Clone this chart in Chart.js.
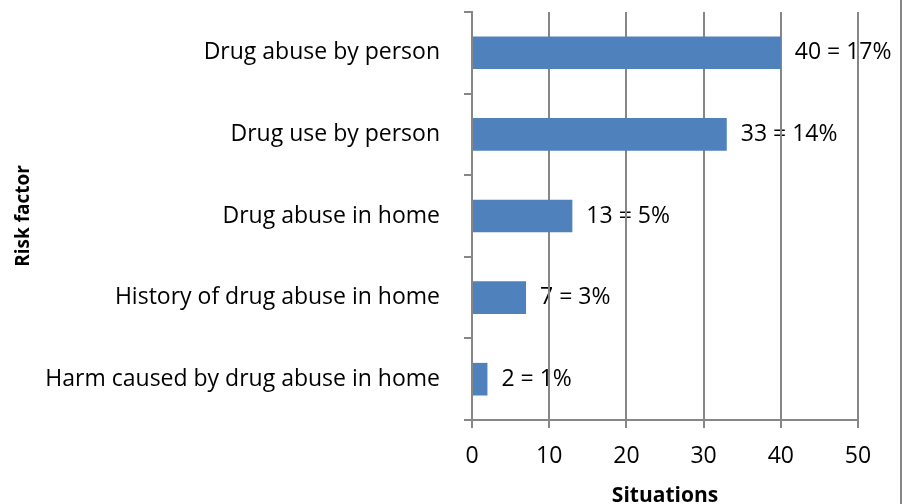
<!DOCTYPE html>
<html><head><meta charset="utf-8">
<script src="https://cdn.jsdelivr.net/npm/chart.js@4"></script>
<style>
html,body{margin:0;padding:0;background:#fff;}
#wrap{position:relative;width:900px;height:504px;border-right:2px solid #868686;}
</style></head>
<body>
<div id="wrap"><canvas id="c" width="900" height="504"></canvas></div>
<script>
const categories = ['Drug abuse by person','Drug use by person','Drug abuse in home','History of drug abuse in home','Harm caused by drug abuse in home'];
const situations = [40, 33, 13, 7, 2];
const percents = ['17%','14%','5%','3%','1%'];
const xTicks = [0, 10, 20, 30, 40, 50];

const FONT = '"Open Sans", "Liberation Sans", Arial, sans-serif';
const FSIZE = 23;
const GRID = '#868686';

const labelPlugin = {
  id: 'valueLabels',
  beforeDraw(chart) {
    const ctx = chart.ctx;
    const meta = chart.getDatasetMeta(0);
    ctx.save();
    ctx.font = FSIZE + 'px ' + FONT;
    ctx.fillStyle = '#000';
    ctx.textAlign = 'left';
    ctx.textBaseline = 'middle';
    meta.data.forEach((bar, i) => {
      ctx.fillText(situations[i] + ' = ' + percents[i], bar.x + 14, bar.y);
    });
    ctx.restore();
  }
};

new Chart(document.getElementById('c'), {
  type: 'bar',
  data: {
    labels: categories,
    datasets: [{
      data: situations,
      backgroundColor: '#4F81BD',
      categoryPercentage: 1,
      barPercentage: 0.4
    }]
  },
  plugins: [labelPlugin],
  options: {
    indexAxis: 'y',
    responsive: false,
    animation: false,
    layout: { padding: { top: 12, right: 42, left: 0, bottom: 0 } },
    plugins: { legend: { display: false }, tooltip: { enabled: false } },
    scales: {
      x: {
        min: 0, max: 50,
        afterBuildTicks(scale) { scale.ticks = xTicks.map(v => ({ value: v })); },
        afterFit(scale) { scale.height = 84; scale.paddingLeft = 0; scale.paddingRight = 0; },
        grid: { color: GRID, lineWidth: 2, tickLength: 8, drawTicks: true },
        border: { color: GRID, width: 2 },
        ticks: { color: '#000', font: { size: FSIZE, family: FONT }, padding: 15 },
        title: { display: true, text: 'Situations', color: '#000', font: { size: 21, weight: 'bold', family: FONT, lineHeight: 0.8 }, padding: { top: 0, bottom: 0 } }
      },
      y: {
        afterFit(scale) { scale.width = 472; scale.paddingTop = 0; scale.paddingBottom = 0; },
        grid: { offset: true, drawOnChartArea: false, color: GRID, lineWidth: 2, tickLength: 8 },
        border: { color: GRID, width: 2 },
        ticks: { color: '#000', font: { size: FSIZE, family: FONT }, padding: 24 },
        title: { display: true, text: 'Risk factor', color: '#000', font: { size: 19, weight: 'bold', family: FONT }, padding: { top: 12, bottom: 0 } }
      }
    }
  }
});
</script>
</body></html>
